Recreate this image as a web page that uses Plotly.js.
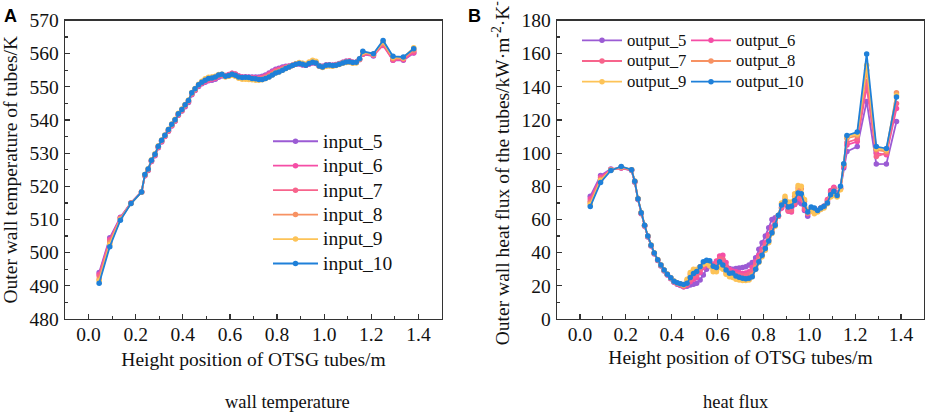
<!DOCTYPE html>
<html><head><meta charset="utf-8">
<script src="https://cdn.plot.ly/plotly-3.0.1.min.js"></script>
<style>html,body{margin:0;padding:0;background:#fff}#chart{width:927px;height:413px}</style>
</head><body><div id="chart"></div>
<script>
// Height positions along the OTSG tubes (m)
const heights = [0.045, 0.09, 0.135, 0.18, 0.225,
  0.239, 0.253, 0.267, 0.282, 0.296, 0.310, 0.324, 0.339, 0.353, 0.367,
  0.381, 0.396, 0.410, 0.424, 0.438, 0.452, 0.467, 0.481, 0.495, 0.509,
  0.524, 0.538, 0.552, 0.566, 0.581, 0.595, 0.609, 0.623, 0.637, 0.652,
  0.666, 0.680, 0.694, 0.709, 0.723, 0.737, 0.751, 0.766, 0.780, 0.794,
  0.808, 0.823, 0.837, 0.851, 0.865, 0.879, 0.894, 0.908, 0.922, 0.936,
  0.951, 0.965, 0.979, 0.993, 1.008, 1.022, 1.036, 1.050, 1.064, 1.079,
  1.093, 1.107, 1.121, 1.136, 1.150, 1.164,
  1.209, 1.250, 1.292, 1.336, 1.380];

// Panel A: outer wall temperature (K)
const tempNames = ['input_5', 'input_6', 'input_7', 'input_8', 'input_9', 'input_10'];
const temp5 = [494.0, 504.5, 510.7, 515.0, 518.3,
  523.2, 524.8, 527.5, 529.2, 531.6, 533.4, 535.0, 536.6, 538.2, 539.6,
  541.4, 542.7, 544.0, 545.3, 547.6, 548.9, 550.1, 550.9, 551.4, 551.8,
  552.0, 552.3, 552.9, 553.3, 553.3, 553.6, 554.0, 553.8, 553.3, 553.0,
  553.0, 553.0, 553.0, 553.0, 553.0, 553.2, 553.6, 554.2, 554.8, 555.3,
  555.6, 556.0, 556.2, 556.3, 556.5, 556.8, 556.9, 556.6, 556.5, 556.9,
  557.2, 557.0, 556.4, 556.2, 556.6, 556.6, 556.5, 556.7, 557.0, 557.4,
  557.7, 557.8, 557.4, 557.4, 558.3, 559.8,
  559.3, 563.0, 558.0, 558.0, 560.2];
const temp6 = [493.5, 504.0, 510.5, 515.0, 518.3,
  523.3, 524.9, 527.6, 529.4, 531.8, 533.5, 535.1, 536.7, 538.3, 539.7,
  541.5, 542.8, 544.2, 545.5, 547.8, 549.0, 550.3, 551.1, 551.6, 552.0,
  552.3, 552.6, 553.2, 553.5, 553.4, 553.7, 554.1, 553.9, 553.3, 553.0,
  553.0, 552.9, 552.8, 552.7, 552.7, 552.9, 553.3, 553.9, 554.5, 555.0,
  555.3, 555.7, 556.0, 556.2, 556.5, 556.8, 557.0, 556.7, 556.5, 556.9,
  557.3, 557.1, 556.3, 556.1, 556.5, 556.6, 556.5, 556.6, 556.9, 557.3,
  557.7, 557.8, 557.4, 557.4, 558.2, 559.8,
  559.5, 562.5, 558.0, 558.2, 560.3];
const temp7 = [493.0, 503.5, 510.3, 514.9, 518.3,
  523.4, 525.0, 527.7, 529.5, 531.9, 533.6, 535.2, 536.8, 538.4, 539.8,
  541.6, 542.9, 544.3, 545.6, 547.9, 549.1, 550.4, 551.2, 551.8, 552.2,
  552.5, 552.8, 553.4, 553.6, 553.3, 553.6, 554.0, 553.7, 553.1, 552.8,
  552.8, 552.7, 552.6, 552.5, 552.5, 552.6, 553.0, 553.5, 554.1, 554.7,
  555.0, 555.4, 555.8, 556.1, 556.4, 556.8, 557.0, 556.7, 556.5, 557.0,
  557.4, 557.2, 556.3, 556.0, 556.5, 556.6, 556.4, 556.6, 556.9, 557.3,
  557.6, 557.7, 557.3, 557.4, 558.3, 560.0,
  559.6, 562.8, 558.3, 558.4, 560.8];
const temp8 = [492.0, 503.0, 510.2, 514.9, 518.3,
  523.5, 525.1, 527.8, 529.6, 532.0, 533.8, 535.3, 537.0, 538.6, 540.0,
  541.8, 543.1, 544.5, 545.8, 548.1, 549.3, 550.6, 551.5, 552.2, 552.7,
  552.9, 553.1, 553.6, 553.7, 553.1, 553.3, 553.6, 553.3, 552.8, 552.5,
  552.5, 552.4, 552.3, 552.2, 552.2, 552.3, 552.7, 553.2, 553.8, 554.4,
  554.7, 555.2, 555.6, 556.0, 556.4, 556.9, 557.2, 557.0, 556.7, 557.3,
  557.8, 557.5, 556.3, 555.9, 556.3, 556.4, 556.3, 556.5, 556.8, 557.2,
  557.4, 557.5, 557.2, 557.3, 558.4, 560.3,
  559.8, 563.3, 558.6, 558.6, 561.2];
const temp9 = [491.5, 502.5, 510.0, 514.8, 518.3,
  523.6, 525.3, 528.0, 529.8, 532.2, 534.0, 535.5, 537.2, 538.8, 540.2,
  542.0, 543.3, 544.7, 546.0, 548.3, 549.5, 550.8, 551.7, 552.4, 552.9,
  553.0, 553.2, 553.7, 553.8, 553.0, 553.2, 553.5, 553.2, 552.6, 552.3,
  552.3, 552.2, 552.1, 552.0, 552.0, 552.1, 552.5, 553.0, 553.6, 554.2,
  554.5, 555.0, 555.5, 556.0, 556.4, 556.9, 557.3, 557.1, 556.8, 557.5,
  558.0, 557.7, 556.3, 555.8, 556.2, 556.3, 556.2, 556.4, 556.7, 557.1,
  557.3, 557.4, 557.1, 557.2, 558.4, 560.4,
  559.9, 563.6, 558.9, 558.8, 561.8];
const temp10 = [490.8, 501.8, 509.8, 514.8, 518.3,
  523.6, 525.2, 527.9, 529.7, 532.1, 533.9, 535.4, 537.1, 538.7, 540.1,
  541.9, 543.2, 544.6, 545.9, 548.2, 549.4, 550.6, 551.4, 552.0, 552.5,
  552.7, 553.0, 553.6, 553.8, 553.2, 553.4, 553.8, 553.5, 553.0, 552.8,
  552.9, 552.8, 552.5, 552.4, 552.2, 552.2, 552.5, 553.0, 553.6, 554.2,
  554.5, 555.0, 555.5, 556.0, 556.4, 556.8, 557.0, 556.8, 556.5, 557.0,
  557.4, 557.2, 556.3, 556.0, 556.5, 556.6, 556.4, 556.5, 556.8, 557.2,
  557.5, 557.6, 557.3, 557.4, 558.5, 560.7,
  560.0, 564.0, 559.2, 559.0, 561.5];

// Panel B: outer wall heat flux (kW·m^-2·K^-1)
const fluxNames = ['output_5', 'output_6', 'output_7', 'output_8', 'output_9', 'output_10'];
const flux5 = [74.0, 86.5, 90.5, 91.0, 89.5,
  82.5, 72.0, 63.5, 56.0, 49.5, 44.0, 39.3, 35.3, 32.0, 29.0,
  26.5, 24.2, 22.2, 21.0, 20.2,
  19.5, 19.8, 20.5, 21.0, 21.5, 23.5, 26.5, 30.0, 32.0, 33.0,
  33.5, 34.5, 35.5, 32.0, 30.5, 30.0, 30.5, 30.8, 31.0, 31.5,
  32.5, 34.0, 37.0, 42.0, 46.0, 50.0, 55.0, 60.0, 61.0, 62.0,
  67.0, 69.5, 66.0, 66.5, 69.0, 70.5, 69.5, 65.5, 62.0, 65.0,
  66.0, 65.0, 66.5, 67.5, 71.0, 77.0, 79.0, 76.0, 78.5, 91.0, 101.0,
  104.0, 131.2, 93.4, 93.5, 119.1];
const flux6 = [72.5, 85.5, 90.2, 91.0, 89.8,
  82.8, 72.3, 63.8, 56.2, 49.8, 44.2, 39.5, 35.5, 32.2, 29.2,
  26.7, 24.4, 22.4, 21.3, 20.5,
  19.5, 20.5, 22.5, 24.0, 25.0, 28.0, 31.0, 32.5, 33.5, 33.0,
  35.0, 38.0, 38.5, 34.0, 30.0, 29.0, 28.5, 28.0, 27.5, 27.8,
  28.5, 31.0, 34.5, 38.5, 42.0, 46.0, 51.0, 55.5, 58.0, 62.0,
  67.0, 69.0, 65.0, 64.5, 69.0, 73.0, 72.0, 66.0, 63.5, 66.0,
  66.5, 65.5, 66.8, 68.0, 72.0, 77.5, 79.5, 76.0, 79.0, 92.0, 105.0,
  107.0, 140.0, 100.0, 99.0, 127.0];
const flux7 = [71.0, 84.5, 90.0, 91.2, 89.8,
  82.8, 72.3, 63.8, 56.3, 49.8, 44.3, 39.6, 35.6, 32.3, 29.3,
  26.8, 24.5, 22.5, 21.4, 20.7,
  19.8, 21.0, 23.5, 25.5, 26.5, 29.5, 32.0, 33.0, 33.0, 32.0,
  33.5, 36.5, 36.0, 31.5, 28.0, 27.5, 27.0, 26.5, 26.0, 26.3,
  27.0, 29.0, 33.0, 37.0, 40.5, 44.5, 49.5, 54.0, 57.5, 62.0,
  67.5, 69.5, 65.5, 65.5, 70.0, 74.0, 73.0, 67.0, 63.8, 66.5,
  66.5, 65.5, 67.0, 68.0, 71.5, 76.5, 78.5, 75.5, 79.0, 92.5, 106.5,
  108.5, 143.0, 98.0, 100.0, 130.0];
const flux8 = [70.0, 84.0, 89.8, 91.5, 90.0,
  83.0, 72.5, 64.0, 56.5, 50.0, 44.5, 39.8, 35.8, 32.5, 29.5,
  27.0, 24.8, 22.8, 21.6, 21.0,
  20.2, 23.0, 27.0, 29.0, 29.5, 31.5, 33.0, 33.5, 32.5, 29.5,
  29.0, 32.0, 31.0, 28.0, 26.5, 26.0, 25.0, 24.5, 24.0, 23.8,
  24.0, 26.5, 31.0, 35.0, 38.5, 42.5, 47.5, 52.5, 56.5, 62.5,
  69.5, 72.5, 69.0, 69.5, 74.0, 79.0, 78.5, 71.0, 64.0, 65.5,
  64.5, 65.0, 66.5, 67.5, 70.0, 74.0, 75.5, 74.0, 78.5, 93.0, 109.0,
  110.5, 150.0, 102.0, 101.0, 136.5];
const flux9 = [69.0, 83.5, 89.7, 91.8, 90.0,
  83.2, 72.6, 64.2, 56.6, 50.1, 44.6, 39.9, 35.9, 32.6, 29.6,
  27.1, 24.9, 22.9, 21.8, 21.2,
  20.5, 24.0, 28.0, 30.0, 30.0, 31.5, 33.0, 33.5, 32.0, 28.5,
  28.5, 31.0, 30.0, 27.0, 25.5, 25.0, 24.0, 23.5, 23.2, 23.2,
  23.5, 25.5, 30.0, 34.0, 37.5, 41.5, 46.0, 51.5, 56.0, 62.5,
  70.0, 74.0, 70.5, 70.5, 75.5, 80.5, 80.0, 72.0, 65.0, 65.0,
  63.5, 64.5, 66.0, 67.0, 69.5, 73.5, 74.5, 73.5, 78.0, 93.5, 110.0,
  111.5, 153.0, 103.0, 102.0, 135.0];
const flux10 = [67.8, 82.3, 89.6, 92.0, 90.0,
  83.0, 72.5, 64.0, 56.5, 50.0, 44.5, 39.8, 35.8, 32.5, 29.5,
  27.0, 24.8, 22.8, 21.8, 21.2,
  20.8, 21.5, 25.0, 27.5, 28.6, 31.5, 34.5, 35.5, 35.2, 31.8,
  31.0, 34.5, 32.5, 29.6, 27.6, 27.8, 26.0, 25.2, 24.6, 24.2,
  24.5, 25.5, 30.0, 34.5, 38.5, 42.5, 47.0, 52.0, 56.5, 62.5,
  68.8, 71.0, 67.5, 68.0, 71.5, 76.0, 75.5, 69.0, 64.5, 67.5,
  67.0, 65.5, 67.0, 68.0, 70.0, 75.0, 77.0, 74.5, 80.0, 93.6, 110.7,
  112.7, 159.8, 104.0, 102.8, 133.9];

const tempSeries = [temp5, temp6, temp7, temp8, temp9, temp10];
const fluxSeries = [flux5, flux6, flux7, flux8, flux9, flux10];
const colors = ['#9b5bd4', '#f54ea6', '#f7648c', '#f79263', '#fdc357', '#1f80d9'];
const fluxLegends = ['legend2', 'legend3', 'legend2', 'legend3', 'legend2', 'legend3'];

const serif = 'Liberation Serif, Times New Roman, serif';
// legend text drawn larger than the legend's base font so that rows stay compact
const legendLabel = (s, px) => '<span style="font-size:' + px + 'px">' + s + '</span>';

const traces = [];
tempSeries.forEach((ys, i) => traces.push({
  type: 'scatter', mode: 'lines+markers', x: heights, y: ys, name: legendLabel(tempNames[i], 19.5),
  xaxis: 'x', yaxis: 'y', legend: 'legend',
  line: {color: colors[i], width: 1.8}, marker: {color: colors[i], size: 5.5}
}));
fluxSeries.forEach((ys, i) => traces.push({
  type: 'scatter', mode: 'lines+markers', x: heights, y: ys, name: legendLabel(fluxNames[i], 16.7),
  xaxis: 'x2', yaxis: 'y2', legend: fluxLegends[i],
  line: {color: colors[i], width: 1.8}, marker: {color: colors[i], size: 5.5}
}));

const W = 927, H = 413;
const yDom = [1 - 319 / H, 1 - 20.5 / H];
const axBase = {
  showline: true, mirror: true, linecolor: '#333', linewidth: 1.3,
  ticks: 'inside', ticklen: 5, tickwidth: 1.2, tickcolor: '#333',
  showgrid: false, zeroline: false,
  tickfont: {family: serif, size: 19.5, color: '#111'}
};
const titleFont = {family: serif, size: 19.5, color: '#111'};
const legBase = {
  xanchor: 'left', yanchor: 'top', bgcolor: 'rgba(0,0,0,0)',
  tracegroupgap: 0, itemwidth: 40
};

const layout = {
  width: W, height: H, margin: {l: 0, r: 0, t: 0, b: 0},
  paper_bgcolor: '#fff', plot_bgcolor: '#fff', showlegend: true,
  xaxis: Object.assign({}, axBase, {
    domain: [65 / W, 442 / W], anchor: 'y', range: [-0.1, 1.5], tick0: 0, dtick: 0.2, tickformat: '.1f',
    ticklabelstandoff: -3,
    minor: {dtick: 0.1, ticklen: 3, tickcolor: '#333', ticks: 'inside'},
    title: {text: 'Height position of OTSG tubes/m', font: titleFont, standoff: 8}
  }),
  yaxis: Object.assign({}, axBase, {
    domain: yDom, anchor: 'x', range: [480, 570], dtick: 10,
    ticklabelstandoff: 1,
    minor: {dtick: 5, ticklen: 3, tickcolor: '#333', ticks: 'inside'},
    title: {text: 'Outer wall temperature of tubes/K', font: titleFont, standoff: 6}
  }),
  xaxis2: Object.assign({}, axBase, {
    domain: [557 / W, 924 / W], anchor: 'y2', range: [-0.1, 1.5], tick0: 0, dtick: 0.2, tickformat: '.1f',
    ticklabelstandoff: -3,
    minor: {dtick: 0.1, ticklen: 3, tickcolor: '#333', ticks: 'inside'},
    title: {text: 'Height position of OTSG tubes/m', font: titleFont, standoff: 6}
  }),
  yaxis2: Object.assign({}, axBase, {
    domain: yDom, anchor: 'x2', range: [0, 180], dtick: 20,
    ticklabelstandoff: 1,
    minor: {dtick: 10, ticklen: 3, tickcolor: '#333', ticks: 'inside'},
    title: {text: 'Outer wall heat flux of the tubes/kW·m<sup>-2</sup>·K<sup>-1</sup>', font: titleFont, standoff: 6}
  }),
  legend: Object.assign({}, legBase, {
    x: 268 / W, y: 1 - 124 / H, itemwidth: 45,
    font: {family: serif, size: 16.5, color: '#111'}
  }),
  legend2: Object.assign({}, legBase, {
    x: 577 / W, y: 1 - 25 / H,
    font: {family: serif, size: 13.6, color: '#111'}
  }),
  legend3: Object.assign({}, legBase, {
    x: 686 / W, y: 1 - 25 / H,
    font: {family: serif, size: 13.6, color: '#111'}
  }),
  annotations: [
    {text: '<b>A</b>', xref: 'paper', yref: 'paper', x: 2 / W, y: 1 - 4 / H, xanchor: 'left', yanchor: 'top',
     showarrow: false, font: {family: 'Liberation Sans, Arial, sans-serif', size: 18, color: '#000'}},
    {text: '<b>B</b>', xref: 'paper', yref: 'paper', x: 466 / W, y: 1 - 4 / H, xanchor: 'left', yanchor: 'top',
     showarrow: false, font: {family: 'Liberation Sans, Arial, sans-serif', size: 18, color: '#000'}},
    {text: 'wall temperature', xref: 'paper', yref: 'paper', x: 287 / W, y: 1 - 402 / H, xanchor: 'center', yanchor: 'middle',
     showarrow: false, font: {family: serif, size: 18.5, color: '#111'}},
    {text: 'heat flux', xref: 'paper', yref: 'paper', x: 736 / W, y: 1 - 402 / H, xanchor: 'center', yanchor: 'middle',
     showarrow: false, font: {family: serif, size: 18.5, color: '#111'}}
  ]
};

Plotly.newPlot('chart', traces, layout, {displayModeBar: false, staticPlot: true});
</script>
</body></html>
